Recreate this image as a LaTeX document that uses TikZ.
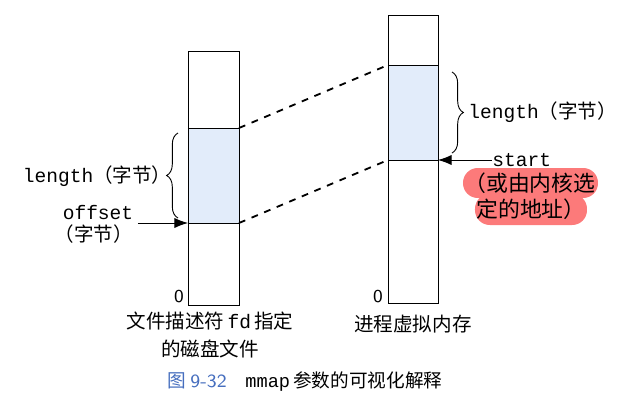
\documentclass[tikz,border=0pt]{standalone}
\usepackage{fontspec}
\setmonofont{Liberation Mono}
\newfontfamily\cjk{Noto Sans CJK SC}
\usetikzlibrary{arrows.meta}
\usetikzlibrary{decorations.pathreplacing}
\definecolor{mapblue}{RGB}{226,236,250}
\definecolor{markred}{RGB}{252,122,122}
\definecolor{figblue}{RGB}{70,110,190}

\tikzset{
  lbl/.style={font=\fontsize{8.6}{10}\selectfont, inner sep=0pt},
  brc/.style={decorate, decoration={brace, amplitude=5pt}},
  hilite/.style={fill=markred, rounded corners=6.5pt},
}

\begin{document}
\begin{tikzpicture}[x=0.44pt, y=-0.44pt]
  \useasboundingbox (0,0) rectangle (618,409);
  % disk file
  \fill[mapblue] (188,128) rectangle (239,223);
  \draw (188,51) rectangle (239,305);
  \draw (188,128) -- (239,128);
  \draw (188,223) -- (239,223);
  \coordinate (ftop) at (239,128);
  \coordinate (fbot) at (239,223);
  \coordinate (foff) at (188,223);
  % virtual memory
  \fill[mapblue] (388,65) rectangle (438,160);
  \draw (388,15) rectangle (438,303);
  \draw (388,65) -- (438,65);
  \draw (388,160) -- (438,160);
  \coordinate (vtop) at (388,65);
  \coordinate (vbot) at (388,160);
  \coordinate (vstart) at (438,160);
  % mapping
  \draw[thick, dashed] (ftop) -- (vtop);
  \draw[thick, dashed] (fbot) -- (vbot);
  % left labels
  \draw[brc] (178,218) -- (178,133);
  \node[lbl, anchor=east] (flen) at (172,176) {\ttfamily length\cjk（字节）};
  \node[lbl] (offs) at (98,213) {\ttfamily offset};
  \node[lbl] (offu) at (94,234) {\cjk（字节）};
  \coordinate (offa) at (138,223);
  \draw[-{Latex[length=6pt]}] (offa) -- (foff);
  % right labels
  \draw[brc] (452,72) -- (452,153);
  \node[lbl, anchor=west] (vlen) at (468,112) {\ttfamily length\cjk（字节）};
  \node[lbl, anchor=west] (strt) at (492,160) {\ttfamily start};
  \draw[-{Latex[length=6pt]}] (strt) -- (vstart);
  \fill[hilite] (463,168) rectangle (598,198);
  \fill[hilite] (475,194) rectangle (587,225);
  \node[lbl, font=\fontsize{9.6}{11}\selectfont] (kern1) at (530,183) {\cjk（或由内核选};
  \node[lbl, font=\fontsize{9.6}{11}\selectfont] (kern2) at (531,209) {\cjk 定的地址）};
  % bottoms
  \node[font=\sffamily\footnotesize, inner sep=0pt] (fz) at (179,297) {0};
  \node[font=\sffamily\footnotesize, inner sep=0pt] (vz) at (378,297) {0};
  \node[lbl, align=center] (fcap) at (210,335) {\cjk 文件描述符\,\ttfamily fd\,\cjk 指定\\[2pt]\cjk 的磁盘文件};
  \node[lbl] (vcap) at (413,324) {\cjk 进程虚拟内存};
  \node[lbl, font=\fontsize{8.2}{10}\selectfont] (cap) at (305,382) {\textcolor{figblue}{\cjk 图\ \sffamily 9-32}\quad\ttfamily mmap\,\cjk 参数的可视化解释};
\end{tikzpicture}
\end{document}
